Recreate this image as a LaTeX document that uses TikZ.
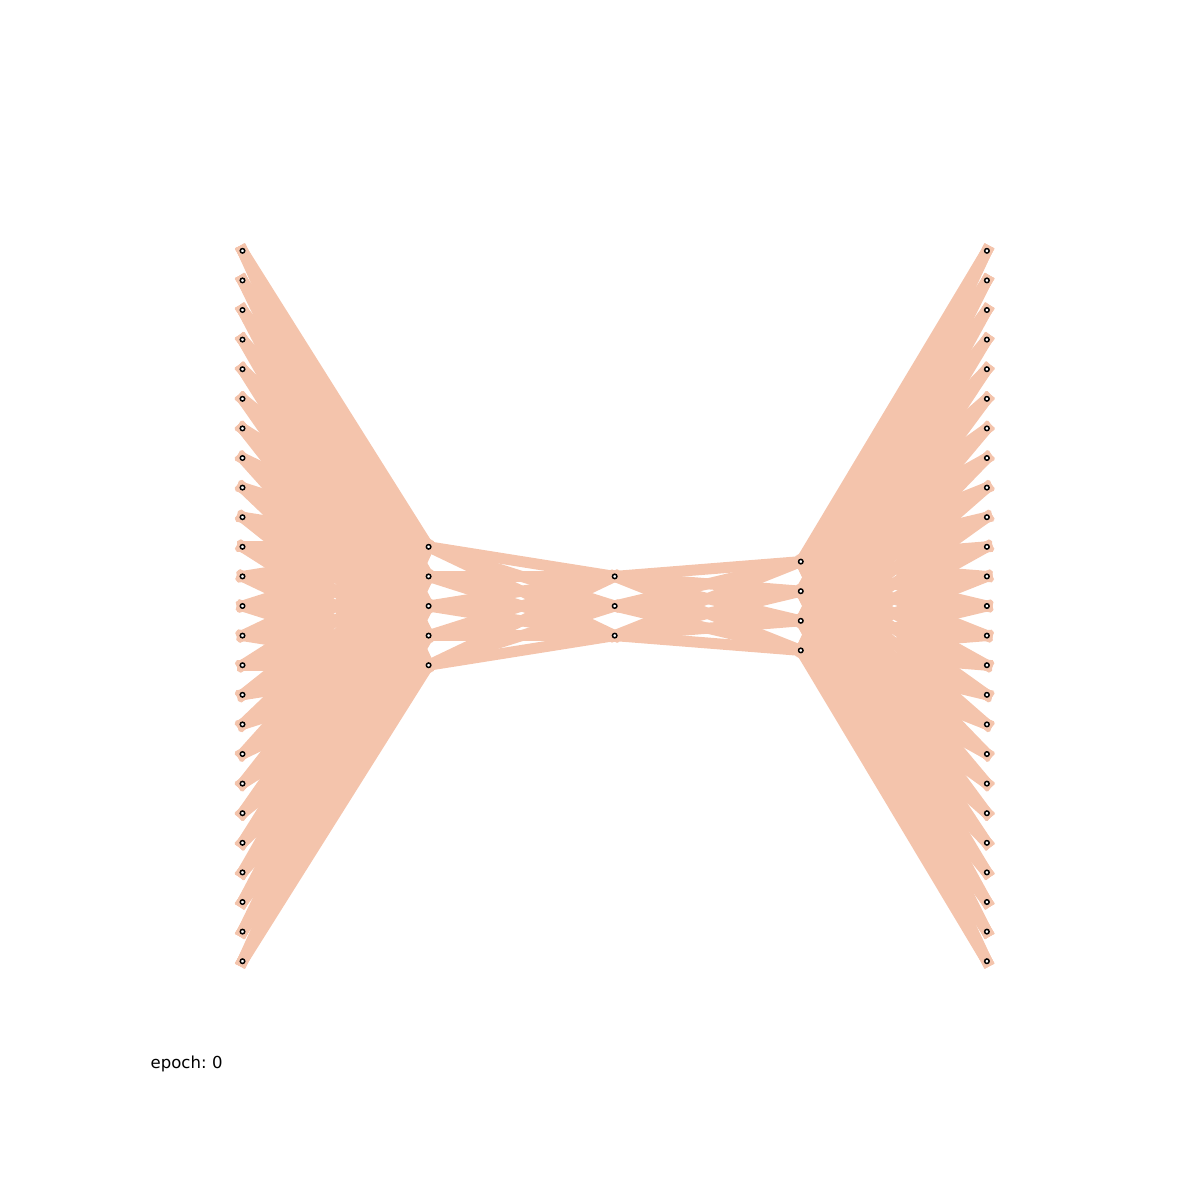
\documentclass[tikz,border=0pt]{standalone}
\usepackage{fontspec}
\setmainfont{DejaVu Sans}
\pgfdeclarelayer{bg}
\pgfsetlayers{bg,main}
\definecolor{edgec}{HTML}{F4C4AC}
\begin{document}
\begin{tikzpicture}[x=1cm,y=-1cm]
\tikzset{
  unit/.style={circle,draw=black,fill=white,line width=0.42pt,inner sep=0pt,minimum size=0.045cm},
  wire/.style={draw=edgec,line width=3.13pt,line cap=rect}
}
\useasboundingbox (0,0) rectangle (12,12);
\foreach \i in {1,...,25} \node[unit] (a\i) at (2.425,{6.06+(\i-13)*0.296}) {};
\foreach \i in {1,...,5} \node[unit] (b\i) at (4.286,{6.06+(\i-3)*0.296}) {};
\foreach \i in {1,...,3} \node[unit] (c\i) at (6.147,{6.06+(\i-2)*0.296}) {};
\foreach \i in {1,...,4} \node[unit] (d\i) at (8.008,{6.06+(\i-2.5)*0.296}) {};
\foreach \i in {1,...,25} \node[unit] (e\i) at (9.869,{6.06+(\i-13)*0.296}) {};
\begin{pgfonlayer}{bg}
\foreach \i in {1,...,25} \foreach \j in {1,...,5} \draw[wire] (a\i.center) -- (b\j.center);
\foreach \i in {1,...,5} \foreach \j in {1,...,3} \draw[wire] (b\i.center) -- (c\j.center);
\foreach \i in {1,...,3} \foreach \j in {1,...,4} \draw[wire] (c\i.center) -- (d\j.center);
\foreach \i in {1,...,4} \foreach \j in {1,...,25} \draw[wire] (d\i.center) -- (e\j.center);
\end{pgfonlayer}
\node[anchor=base west,inner sep=0pt,font=\fontsize{4.7pt}{5.7pt}\selectfont] (epoch) at (1.50,10.68) {epoch:\kern-0.08em{} 0};
\end{tikzpicture}
\end{document}
